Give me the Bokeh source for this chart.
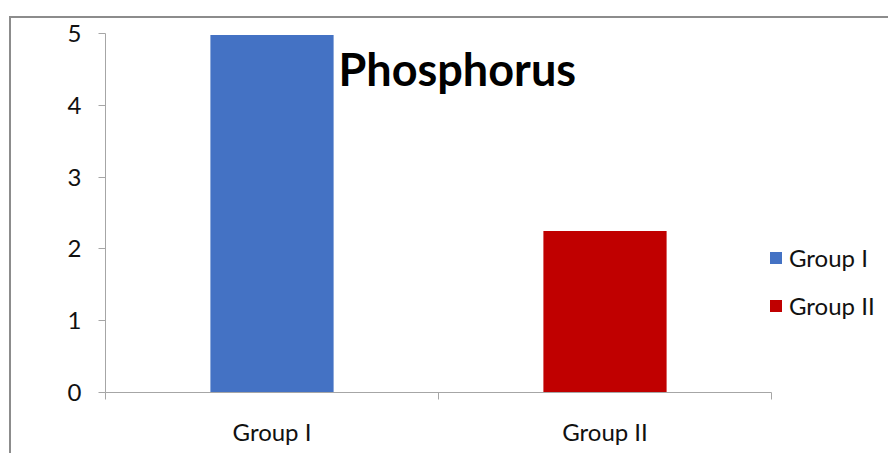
from bokeh.plotting import figure
from bokeh.models import (Range1d, LinearAxis, FixedTicker,
                          Legend, LegendItem, Label, ColumnDataSource)
from bokeh.embed import file_html
from bokeh.resources import INLINE

# ---- data ----
categories = ["Group I", "Group II"]
values = [4.98, 2.25]
colors = ["#4472C4", "#C00000"]
y_ticks = [0, 1, 2, 3, 4, 5]
title_text = "Phosphorus"

FONT = "Lato"
AXIS_COLOR = "#a6a6a6"

n = len(categories)
centers = [i + 0.5 for i in range(n)]      # category slots on a numeric axis
bounds = list(range(n + 1))                 # slot boundaries (Excel-style ticks)

# frame spans to the right edge so the legend (drawn in the frame) is not clipped;
# the category axis itself covers only [0, n]
p = figure(width=879, height=437, output_backend="svg", toolbar_location=None,
           x_range=Range1d(0, n * 785 / 666), y_range=Range1d(0, 5),
           x_axis_location=None, y_axis_location=None,
           min_border_left=94, min_border_top=15, min_border_right=0, min_border_bottom=63)
p.margin = (16, 0, 0, 9)
p.styles = {"border-left": "2px solid #8c8c8c", "border-top": "2px solid #8c8c8c"}
p.outline_line_color = None
p.xgrid.visible = False
p.ygrid.visible = False

src = ColumnDataSource(dict(x=centers, cat=categories, val=values, col=colors))
r = p.vbar(x="x", top="val", width=0.37, color="col", source=src, line_color=None)

# y axis
yax = LinearAxis(ticker=FixedTicker(ticks=y_ticks))
yax.axis_line_color = AXIS_COLOR
yax.major_tick_line_color = AXIS_COLOR
yax.major_tick_out = 7
yax.major_tick_in = 0
yax.minor_tick_line_color = None
yax.major_label_text_font = FONT
yax.major_label_text_font_size = "24px"
yax.major_label_text_color = "#111111"
yax.major_label_standoff = 17
p.add_layout(yax, "left")

# x axis line + boundary ticks
xb = LinearAxis(ticker=FixedTicker(ticks=bounds), bounds=(0, n))
xb.axis_line_color = AXIS_COLOR
xb.major_tick_line_color = AXIS_COLOR
xb.major_tick_out = 7
xb.major_tick_in = 0
xb.minor_tick_line_color = None
xb.major_label_overrides = {b: "" for b in bounds}
xb.major_label_text_font_size = "1px"
xb.major_label_standoff = 0
p.add_layout(xb, "below")

# category labels
xc = LinearAxis(ticker=FixedTicker(ticks=centers))
xc.major_label_overrides = {c: lab for c, lab in zip(centers, categories)}
xc.axis_line_color = None
xc.major_tick_line_color = None
xc.minor_tick_line_color = None
xc.major_label_text_font = FONT
xc.major_label_text_font_size = "24px"
xc.major_label_text_color = "#111111"
xc.major_label_standoff = 11
p.add_layout(xc, "below")

# legend
items = [LegendItem(label=c, renderers=[r], index=i) for i, c in enumerate(categories)]
leg = Legend(items=items, location=(663, 72))
leg.padding = 0
leg.margin = 0
leg.border_line_color = None
leg.background_fill_alpha = 0
leg.glyph_width = 15
leg.glyph_height = 15
leg.label_height = 15
leg.spacing = 19
leg.label_standoff = 6
leg.label_text_font = FONT
leg.label_text_font_size = "24px"
leg.label_text_color = "#111111"
p.add_layout(leg, "center")

# title (inside the plot area, as in the reference)
t = Label(x=233, y=324, x_units="screen", y_units="screen", text=title_text,
          text_font=FONT, text_font_size="45px", text_font_style="bold",
          text_color="#000000", text_baseline="alphabetic")
p.add_layout(t)

open("out.html", "w").write(file_html(p, INLINE))
